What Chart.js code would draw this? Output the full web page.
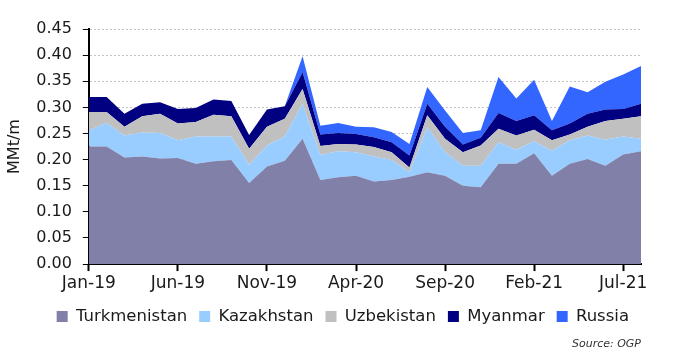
<!DOCTYPE html>
<html><head><meta charset="utf-8">
<script src="https://cdn.jsdelivr.net/npm/chart.js@4/dist/chart.umd.min.js"></script>
<style>html,body{margin:0;padding:0;background:#fff}</style>
</head><body>
<canvas id="c" width="698" height="357"></canvas>
<script>
const months = ['Jan-19','Feb-19','Mar-19','Apr-19','May-19','Jun-19','Jul-19','Aug-19','Sep-19','Oct-19','Nov-19','Dec-19',
  'Jan-20','Feb-20','Mar-20','Apr-20','May-20','Jun-20','Jul-20','Aug-20','Sep-20','Oct-20','Nov-20','Dec-20',
  'Jan-21','Feb-21','Mar-21','Apr-21','May-21','Jun-21','Jul-21','Aug-21'];
const turkmenistan = [0.225,0.225,0.204,0.206,0.202,0.203,0.192,0.197,0.199,0.155,0.187,0.198,
  0.240,0.161,0.166,0.169,0.158,0.161,0.167,0.176,0.169,0.150,0.147,0.192,
  0.192,0.212,0.169,0.192,0.201,0.188,0.210,0.216];
const kazakhstan = [0.031,0.045,0.042,0.046,0.049,0.034,0.052,0.047,0.045,0.035,0.040,0.046,
  0.067,0.048,0.050,0.045,0.048,0.038,0.009,0.086,0.045,0.038,0.041,0.041,
  0.027,0.023,0.048,0.045,0.045,0.050,0.034,0.024];
const uzbekistan = [0.035,0.021,0.017,0.031,0.037,0.032,0.028,0.042,0.039,0.031,0.036,0.034,
  0.028,0.017,0.014,0.015,0.018,0.015,0.009,0.023,0.026,0.026,0.039,0.026,
  0.027,0.022,0.020,0.011,0.017,0.036,0.034,0.043];
const myanmar = [0.029,0.029,0.025,0.024,0.022,0.028,0.027,0.029,0.029,0.026,0.033,0.024,
  0.032,0.022,0.021,0.020,0.019,0.019,0.023,0.022,0.023,0.015,0.015,0.030,
  0.028,0.028,0.019,0.021,0.025,0.022,0.019,0.024];
const russia = [0,0,0,0,0,0,0,0,0,0,0,0,
  0.031,0.017,0.019,0.014,0.019,0.020,0.022,0.032,0.031,0.022,0.014,0.069,
  0.043,0.068,0.018,0.071,0.041,0.053,0.066,0.072];
const yTicks = ['0.00','0.05','0.10','0.15','0.20','0.25','0.30','0.35','0.40','0.45'];

const FONT = "'DejaVu Sans', sans-serif";
function ds(label, data, color, fill) {
  return {label, data, backgroundColor: color, borderColor: color, borderWidth: 0,
    pointRadius: 0, pointHoverRadius: 0, fill, tension: 0};
}
new Chart(document.getElementById('c'), {
  type: 'line',
  data: {
    labels: months,
    datasets: [
      ds('Turkmenistan', turkmenistan, '#8080A8', 'origin'),
      ds('Kazakhstan', kazakhstan, '#99CCFF', '-1'),
      ds('Uzbekistan', uzbekistan, '#C0C0C0', '-1'),
      ds('Myanmar', myanmar, '#000080', '-1'),
      ds('Russia', russia, '#3366FF', '-1')
    ]
  },
  options: {
    responsive: false,
    animation: false,
    layout: {padding: {left: 5, right: 57, top: 29, bottom: 6}},
    plugins: {
      tooltip: {enabled: false},
      legend: {
        position: 'bottom',
        align: 'end',
        labels: {boxWidth: 11, boxHeight: 11, padding: 12, color: '#1a1a1a', font: {family: FONT, size: 16.5}}
      },
      subtitle: {
        display: true, text: 'Source: OGP', position: 'bottom', align: 'end',
        color: '#333', font: {family: FONT, size: 11, style: 'italic'}, padding: {top: 3, bottom: 0}
      }
    },
    scales: {
      x: {
        offset: false,
        grid: {drawOnChartArea: false, drawTicks: true, tickLength: 7, tickWidth: 2,
          tickColor: c => (c.index % 5 === 0 ? '#000' : 'rgba(0,0,0,0)')},
        border: {color: '#000', width: 2},
        ticks: {autoSkip: false, maxRotation: 0, color: '#1a1a1a', font: {family: FONT, size: 17, lineHeight: 0.66}, padding: 7,
          callback: (v, i) => (i % 5 === 0 ? months[i] : '')}
      },
      y: {
        stacked: true, min: 0, max: 0.45,
        title: {display: true, text: 'MMt/m', color: '#1a1a1a', font: {family: FONT, size: 16}, padding: {top: 0, bottom: 1}},
        grid: {color: c => (c.index === 0 ? 'rgba(0,0,0,0)' : '#c4c4c4'), lineWidth: 1, tickLength: 6, tickColor: '#000'},
        border: {color: '#000', width: 2, dash: [2, 2]},
        ticks: {stepSize: 0.05, color: '#1a1a1a', font: {family: FONT, size: 16}, padding: 11,
          callback: (v, i) => yTicks[i]}
      }
    }
  }
});
</script>
</body></html>
